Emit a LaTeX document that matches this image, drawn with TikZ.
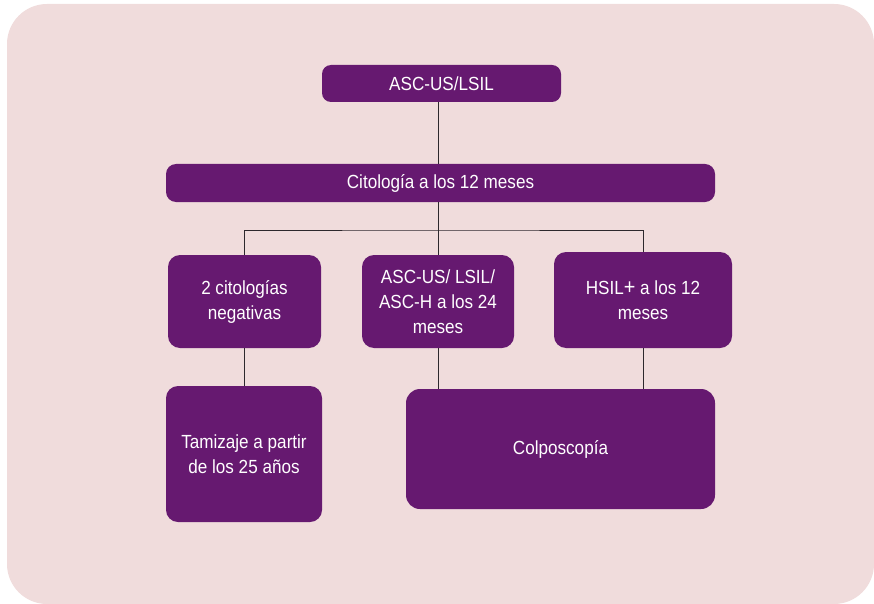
\documentclass[tikz,border=0pt]{standalone}
\usepackage{fontspec}
\setmainfont[FakeStretch=0.9]{Liberation Sans}
\definecolor{bgpink}{RGB}{240,220,220}
\definecolor{boxpurple}{RGB}{102,25,112}
\definecolor{linegray}{RGB}{45,40,45}
\tikzset{
  pbox/.style={fill=boxpurple, text=white, rounded corners=12pt, inner sep=0pt, align=center,
    font=\fontsize{19}{25}\selectfont},
  conn/.style={draw=linegray, line width=1pt}
}
\begin{document}
\begin{tikzpicture}[x=1pt,y=-1pt]
\useasboundingbox (0,0) rectangle (874,604);
\fill[bgpink, rounded corners=40pt] (7,4) rectangle (874,604);
\node[pbox, rounded corners=9pt, minimum width=239pt, minimum height=37pt] (n1) at (441.5,83.5) {ASC-US/LSIL};
\node[pbox, rounded corners=10pt, minimum width=549pt, minimum height=38pt] (n2) at (440.5,183) {Citología a los 12 meses};
\node[pbox, minimum width=153pt, minimum height=93pt] (n3) at (244.5,301.5) {2 citologías\\negativas};
\node[pbox, minimum width=152pt, minimum height=93pt] (n4) at (438,301.5) {ASC-US/ LSIL/\\ASC-H a los 24\\meses};
\node[pbox, minimum width=178pt, minimum height=96pt] (n5) at (643,300) {HSIL{\fontsize{22}{25}\selectfont+} a los 12\\meses};
\node[pbox, minimum width=156pt, minimum height=136pt] (n6) at (244,454) {Tamizaje a partir\\de los 25 años};
\node[pbox, rounded corners=14pt, minimum width=309pt, minimum height=120pt] (n7) at (560.5,449) {Colposcopía};
\coordinate (j) at (438,230);
\draw[conn] (n1.south -| j) -- (n2.north -| j);
\draw[conn] (n2.south -| j) -- (j);
\draw[conn] (n3.north) |- (j) -| (n5.north);
\draw[conn] (j) -- (n4.north);
\draw[conn] (n3.south) -- (n3.south |- n6.north);
\draw[conn] (n4.south) -- (n4.south |- n7.north);
\draw[conn] (n5.south) -- (n5.south |- n7.north);
\end{tikzpicture}
\end{document}
